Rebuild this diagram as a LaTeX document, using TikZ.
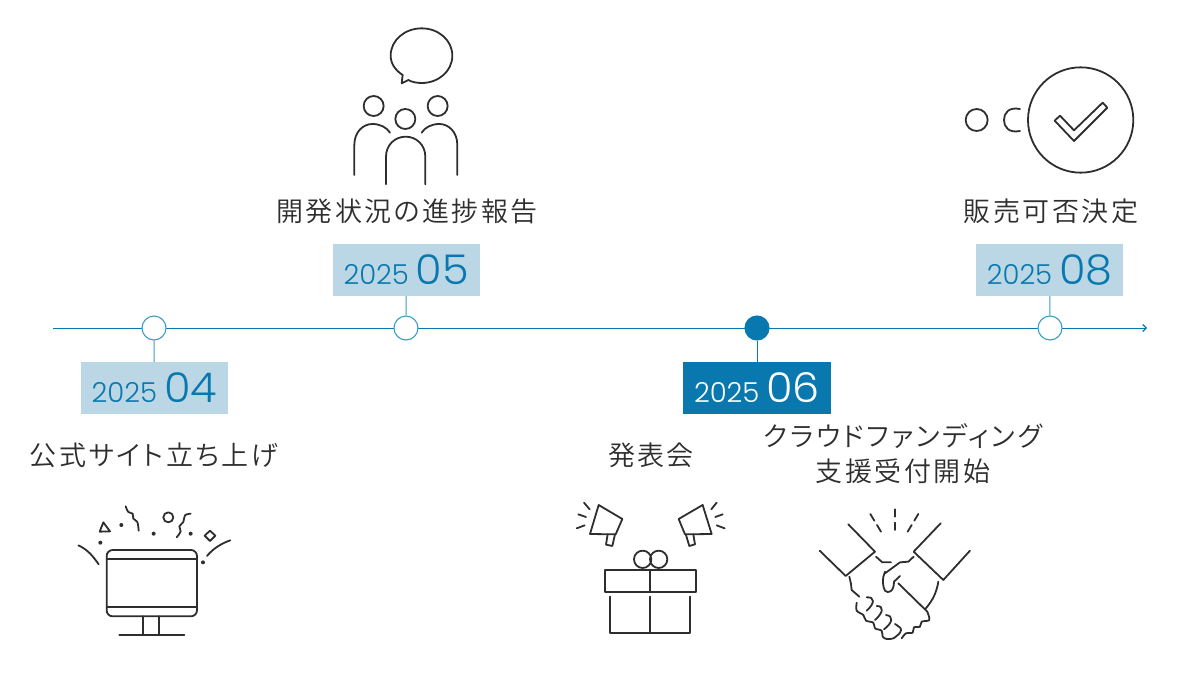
\documentclass[tikz,border=0pt]{standalone}
\usepackage{fontspec}
\setmainfont{Noto Sans CJK JP DemiLight}[RawFeature={+palt},LetterSpace=9]
\newfontfamily\yearfont{Poppins Light}
\newfontfamily\bigyearfont{Poppins Light}[FakeStretch=1.05]
\usetikzlibrary{arrows.meta}
\definecolor{tlblue}{HTML}{0878AE}
\definecolor{tllight}{HTML}{BBD7E5}
\definecolor{tlring}{HTML}{3E9BC4}
\definecolor{ink}{HTML}{2E2E2E}
\tikzset{
  yearbox/.style={minimum width=147.5pt,minimum height=52pt,inner sep=0pt,fill=tllight,text=tlblue},
  yearboxdark/.style={yearbox,fill=tlblue,text=white},
  ring/.style={circle,minimum size=24pt,inner sep=0pt,draw=tlring,line width=1.1pt,fill=white},
  ringfull/.style={ring,fill=tlblue,draw=tlblue},
  stem/.style={draw=tlring,line width=1.1pt},
  caption/.style={font=\fontsize{27}{35}\selectfont,text=ink,align=center,inner sep=0pt},
  icon/.style={draw=ink,line width=1.8pt,line join=round,line cap=round},
}
\newcommand{\yr}[2]{{\yearfont\fontsize{27.5}{27}\selectfont #1\hspace{7pt}\bigyearfont\fontsize{41}{41}\selectfont #2}}
\begin{document}
\begin{tikzpicture}[x=1pt,y=-1pt]
\useasboundingbox (0,0) rectangle (1200,675);
% timeline
\coordinate (tlstart) at (53,328);
\coordinate (tlend) at (1147,328);
\draw[draw=tlblue,line width=1pt,-{Straight Barb[length=3.5pt,width=7pt,line width=1.1pt]}] (tlstart) -- (tlend);
\node[ring] (r04) at (154,328) {};
\node[ring] (r05) at (406,328) {};
\node[ringfull] (r06) at (757,328) {};
\node[ring] (r08) at (1050,328) {};
\node[yearbox] (y04) at (154.3,388) {\yr{2025}{04}};
\node[yearbox] (y05) at (406.3,270) {\yr{2025}{05}};
\node[yearboxdark] (y06) at (757,388) {\yr{2025}{06}};
\node[yearbox] (y08) at (1049.7,270) {\yr{2025}{08}};
\path[stem] (r04) -- (y04);
\path[stem] (r05) -- (y05);
\path[draw=tlblue,line width=1pt] (r06) -- (y06);
\path[stem] (r08) -- (y08);
% captions
\node[caption] (c04) at (154,455) {公式サイト立ち上げ};
\node[caption] (c05) at (407,211) {開発状況の進捗報告};
\node[caption] (c06) at (651,455) {発表会};
\node[caption] (c06b) at (903,454) {クラウドファンディング\\支援受付開始};
\node[caption] (c08) at (1051,211) {販売可否決定};
% monitor icon
\begin{scope}[shift={(60,490)},x=.3333pt,y=-.3333pt,icon]
\draw[rounded corners=6pt] (140,180) rectangle (411,379);
\draw (140,208) -- (411,208) (140,350) -- (411,350);
\draw (250,379) -- (250,436) (298,379) -- (298,436) (178,436) -- (373,436);
\draw (55,166) .. controls (85,180) and (100,200) .. (116,223);
\draw (441,198) .. controls (460,175) and (485,160) .. (511,151);
\foreach \p in {(121,158),(184,105),(281,131),(392,131),(429,217)} \fill[ink,draw=none] \p circle (6);
\draw (130,97) -- (119,125) -- (150,124) -- cycle;
\draw (325,82) circle (15);
\draw (450,122) -- (466,137) -- (450,153) -- (434,137) -- cycle;
\draw plot[smooth,tension=.6] coordinates {(197,49) (205,66) (218,71) (220,86) (232,96) (236,122)};
\draw plot[smooth,tension=.6] coordinates {(392,71) (375,76) (370,96) (358,109) (362,124) (350,142)};
\end{scope}
% gift icon
\begin{scope}[shift={(560,490)},x=.3333pt,y=-.3333pt,icon]
\draw (134,240) rectangle (408,306);
\draw (271,240) -- (271,306);
\draw (151,320) -- (151,430) -- (391,430) -- (391,320) (271,320) -- (271,430);
\draw (248,208) circle (26) (296,208) circle (26);
\draw (116,45) -- (187,87) -- (167,133) -- (90,132) -- cycle;
\draw (143,133) -- (138,164) -- (157,168) -- (165,133);
\draw (72,38) -- (89,58) (55,73) -- (78,81) (50,115) -- (74,106);
\draw (428,45) -- (356,87) -- (375,133) -- (455,132) -- cycle;
\draw (378,135) -- (388,168) -- (405,163) -- (400,133);
\draw (470,38) -- (454,58) (488,73) -- (466,81) (494,115) -- (470,106);
\end{scope}
% handshake icon, upper part
\begin{scope}[shift={(805,500)},x=.3333pt,y=-.3333pt,icon]
\draw (196,42) -- (208,62) (216,75) -- (228,95);
\draw (270,28) -- (270,50) (270,68) -- (270,90);
\draw (340,42) -- (328,62) (320,75) -- (308,95);
\draw (130,73) -- (210,155) -- (122,228) -- (44,152);
\draw (407,70) -- (326,155) -- (415,240) -- (495,152);
\draw (213,170) -- (232,187) -- (258,187);
\draw (326,170) -- (310,185) -- (285,187) -- (240,220);
\end{scope}
% handshake icon, lower part
\begin{scope}[shift={(840,570)},x=.3333pt,y=-.3333pt,icon]
\draw (135,5) .. controls (125,25) and (128,50) .. (135,62) .. controls (145,72) and (162,65) .. (162,35) -- (180,18);
\draw (175,40) -- (262,125);
\draw (295,35) .. controls (290,65) and (280,90) .. (255,118);
\draw plot[smooth,tension=.5] coordinates {(262,125) (268,150) (245,155) (240,170) (222,172) (218,188) (198,190) (185,205)};
\draw (28,20) -- (33,42) -- (35,60) -- (58,80);
\draw plot[smooth,tension=.5] coordinates {(50,98) (50,122) (70,135) (78,152) (100,158) (105,175) (125,182) (128,200) (140,207) (160,205) (180,188) (182,175) (165,162)};
\draw (80,82) .. controls (105,80) and (105,100) .. (80,122);
\draw (110,108) .. controls (133,108) and (130,128) .. (105,150);
\draw (138,135) .. controls (162,138) and (158,158) .. (132,178);
\end{scope}
% people icon
\begin{scope}[shift={(340,20)},x=.3333pt,y=-.3333pt,icon]
\draw (188,165) .. controls (165,150) and (152,130) .. (152,107) .. controls (152,60) and (195,25) .. (245,25) .. controls (295,25) and (337,60) .. (337,107) .. controls (337,154) and (295,189) .. (245,189) .. controls (230,189) and (215,186) .. (205,180) -- (185,190) -- cycle;
\draw (101,258) circle (30) (293,258) circle (30) (196,297) circle (30);
\draw (43,465) -- (43,375) .. controls (43,335) and (70,312) .. (97,312) .. controls (120,312) and (140,322) .. (150,338);
\draw (352,465) -- (352,375) .. controls (352,335) and (325,312) .. (298,312) .. controls (275,312) and (255,322) .. (245,338);
\draw (138,493) -- (138,410) .. controls (138,375) and (165,350) .. (197,350) .. controls (229,350) and (256,375) .. (256,410) -- (256,493);
\end{scope}
% check icon
\begin{scope}[shift={(950,55)},x=.3333pt,y=-.3333pt,icon]
\draw (392,195) circle (158);
\draw (80,195) circle (33);
\draw (210,162) .. controls (175,155) and (162,175) .. (162,195) .. controls (162,215) and (175,235) .. (210,228);
\draw (314,197) -- (372,258) -- (472,158) -- (458,143) -- (372,226) -- (330,182) -- cycle;
\end{scope}
\end{tikzpicture}
\end{document}
